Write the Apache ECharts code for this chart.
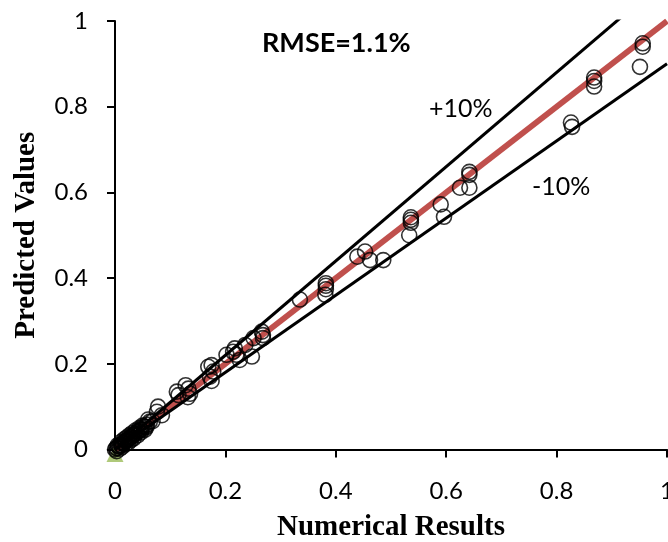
<!DOCTYPE html>
<html><head><meta charset="utf-8">
<script src="https://cdn.jsdelivr.net/npm/echarts@6/dist/echarts.min.js"></script>
<style>html,body{margin:0;padding:0;background:#fff}#c{width:668px;height:542px}</style>
</head><body><div id="c"></div>
<script>
// Data
const xTicks = [0, 0.2, 0.4, 0.6, 0.8, 1];
const yTicks = [0, 0.2, 0.4, 0.6, 0.8, 1];
const numerical = [
  0.000,0.002,0.004,0.006,0.008,0.010,0.012,0.014,0.016,0.018,0.020,0.022,0.025,0.027,0.030,0.032,0.035,0.038,0.040,0.043,0.046,0.048,0.052,0.055,0.058,0.057,0.063,0.068,0.076,0.078,0.085,
  0.003,0.005,0.009,0.011,0.013,0.017,0.019,0.021,0.024,0.026,0.029,0.031,0.034,0.037,0.041,0.044,0.047,0.050,0.054,0.060,
  0.112,0.115,0.128,0.133,0.136,0.132,0.169,0.172,0.178,0.175,0.175,0.202,0.214,0.217,0.220,0.226,0.236,0.248,0.251,0.266,0.268,0.268,
  0.335,0.382,0.382,0.382,0.381,0.439,0.453,0.462,0.486,0.536,0.536,0.536,0.533,0.590,0.596,0.625,0.642,0.642,0.642,
  0.826,0.828,0.868,0.868,0.868,0.956,0.956,0.951
];
const predicted = [
  0.000,0.003,0.003,0.007,0.007,0.011,0.010,0.015,0.015,0.019,0.020,0.023,0.024,0.028,0.029,0.034,0.035,0.037,0.042,0.042,0.047,0.046,0.054,0.053,0.058,0.052,0.065,0.066,0.088,0.100,0.080,
  -0.004,0.010,0.002,0.018,0.006,0.024,0.012,0.028,0.016,0.033,0.022,0.038,0.026,0.044,0.033,0.050,0.040,0.056,0.046,0.070,
  0.135,0.127,0.150,0.142,0.130,0.122,0.193,0.170,0.182,0.197,0.160,0.221,0.228,0.236,0.221,0.209,0.244,0.217,0.260,0.275,0.267,0.260,
  0.350,0.388,0.382,0.374,0.361,0.450,0.462,0.442,0.442,0.542,0.536,0.529,0.500,0.572,0.543,0.611,0.648,0.641,0.611,
  0.763,0.753,0.868,0.860,0.847,0.948,0.940,0.893
];
const perfectLine = [[0,0],[1,1]];
const plusTen = [[0,0],[1,1.1]];
const minusTen = [[0,0],[1,0.9]];
const origin = [[0,0]];

const pts = numerical.map((x,i)=>[x,predicted[i]]);
const chart = echarts.init(document.getElementById('c'), null, {renderer:'canvas'});
const tickFont = {fontFamily:'Lato', fontSize:24, color:'#000'};
chart.setOption({
  animation:false,
  backgroundColor:'#fff',
  grid:{left:115, right:1, top:21, bottom:92.5, outerBoundsMode:'none', containLabel:false},
  xAxis:{type:'value', min:0, max:1, interval:0.2,
    name:'Numerical Results', nameLocation:'middle', nameGap:64,
    nameTextStyle:{fontFamily:'Liberation Serif', fontWeight:'bold', fontSize:29, color:'#000'},
    axisLine:{show:true, onZero:false, lineStyle:{color:'#000', width:2}},
    axisTick:{show:true, inside:false, length:8, lineStyle:{color:'#000', width:2}},
    axisLabel:Object.assign({margin:30, formatter:v=>String(+v.toFixed(1))}, tickFont),
    splitLine:{show:false}},
  yAxis:{type:'value', min:0, max:1, interval:0.2,
    name:'Predicted Values', nameLocation:'middle', nameGap:74,
    nameTextStyle:{fontFamily:'Liberation Serif', fontWeight:'bold', fontSize:29, color:'#000'},
    axisLine:{show:true, onZero:false, lineStyle:{color:'#000', width:2}},
    axisTick:{show:true, inside:false, length:8, lineStyle:{color:'#000', width:2}},
    axisLabel:Object.assign({margin:27, formatter:v=>String(+v.toFixed(1))}, tickFont),
    splitLine:{show:false}},
  series:[
    {type:'scatter', data:origin, symbol:'triangle', symbolSize:17, symbolOffset:[0,4],
      itemStyle:{color:'#9BBB59'}, z:1, silent:true},
    {type:'line', data:perfectLine, showSymbol:false, symbol:'none', lineStyle:{color:'#C0504D', width:6}, z:2, clip:true},
    {type:'line', data:plusTen, showSymbol:false, symbol:'none', lineStyle:{color:'#000', width:3}, z:2, clip:true},
    {type:'line', data:minusTen, showSymbol:false, symbol:'none', lineStyle:{color:'#000', width:3}, z:2, clip:true},
    {type:'scatter', data:pts, symbol:'circle', symbolSize:15, clip:false,
      itemStyle:{color:'rgba(0,0,0,0)', borderColor:'#000', borderWidth:1.6}, z:3}
  ],
  graphic:[
    {type:'text', left:262, top:30, style:{text:'RMSE=1.1%', font:'bold 27px Lato', fill:'#000'}},
    {type:'text', left:429, top:96, style:{text:'+10%', font:'25px Lato', fill:'#000'}},
    {type:'text', left:532, top:174, style:{text:'-10%', font:'25px Lato', fill:'#000'}}
  ]
});
</script></body></html>
